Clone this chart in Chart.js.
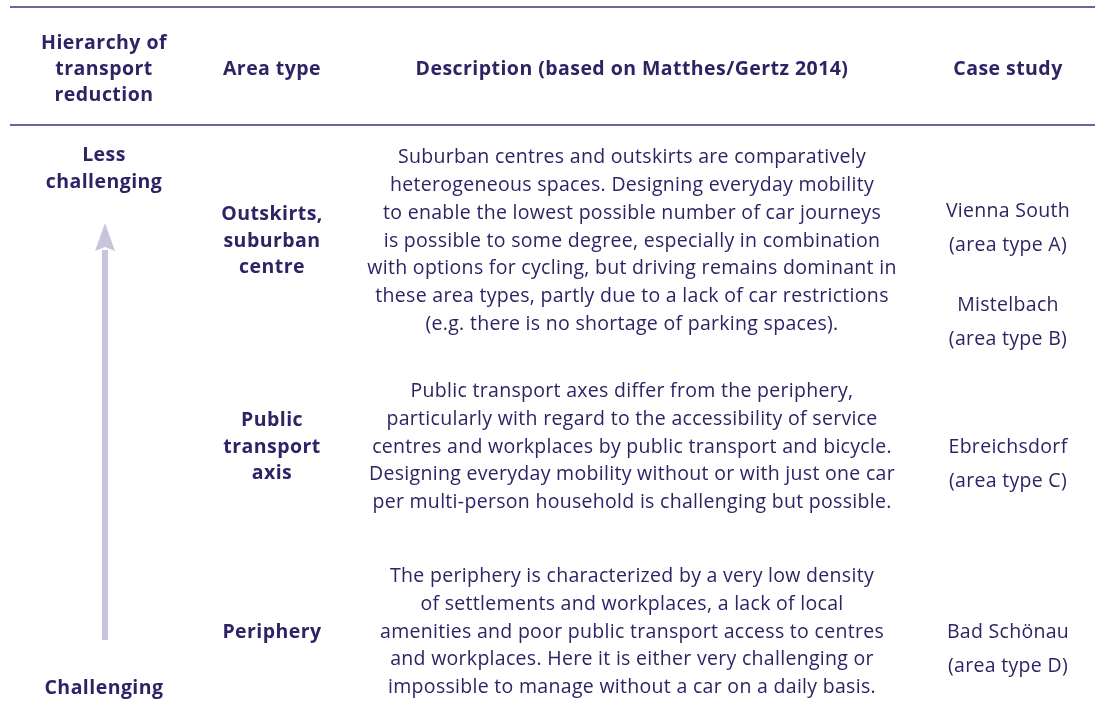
<!DOCTYPE html>
<html>
<head>
<meta charset="utf-8">
<script src="https://cdn.jsdelivr.net/npm/chart.js@4"></script>
<style>
  body { margin: 0; background: #fff; }
  #table-chart { display: block; }
</style>
</head>
<body>
<canvas id="table-chart" width="1095" height="710"></canvas>
<script>
const columnHeaders = [
    ['Hierarchy of', 'transport', 'reduction'],
    ['Area type'],
    ['Description (based on Matthes/Gertz 2014)'],
    ['Case study']
];
const areaTypes = [
    ['Outskirts,', 'suburban', 'centre'],
    ['Public', 'transport', 'axis'],
    ['Periphery']
];
const descriptions = [
    ['Suburban centres and outskirts are comparatively',
     'heterogeneous spaces. Designing everyday mobility',
     'to enable the lowest possible number of car journeys',
     'is possible to some degree, especially in combination',
     'with options for cycling, but driving remains dominant in',
     'these area types, partly due to a lack of car restrictions',
     '(e.g. there is no shortage of parking spaces).'],
    ['Public transport axes differ from the periphery,',
     'particularly with regard to the accessibility of service',
     'centres and workplaces by public transport and bicycle.',
     'Designing everyday mobility without or with just one car',
     'per multi-person household is challenging but possible.'],
    ['The periphery is characterized by a very low density',
     'of settlements and workplaces, a lack of local',
     'amenities and poor public transport access to centres',
     'and workplaces. Here it is either very challenging or',
     'impossible to manage without a car on a daily basis.']
];
const caseStudies = [
    [['Vienna South', '(area type A)'], ['Mistelbach', '(area type B)']],
    [['Ebreichsdorf', '(area type C)']],
    [['Bad Schönau', '(area type D)']]
];
const hierarchyTop = ['Less', 'challenging'];
const hierarchyBottom = ['Challenging'];

// layout (pixels on the hidden linear scales)
const colX = [104, 272, 632, 1008];
const headerY = 69;
const rowY = [241, 447, 632];
const ruleY = [7, 125];
const textColor = '#2d2365';
const ruleColor = '#3b3272';
const arrowColor = '#c8c4de';
const fontFamily = "'Open Sans', sans-serif";

function lines(ctx, arr, x, y, step) {
    let start = y - (arr.length - 1) * step / 2;
    arr.forEach((t, i) => ctx.fillText(t, x, start + i * step));
}

const tablePlugin = {
    id: 'tableText',
    afterDatasetsDraw(chart) {
        const ctx = chart.ctx;
        const xs = chart.scales.x;
        const ys = chart.scales.y;
        const px = v => xs.getPixelForValue(v);
        const py = v => ys.getPixelForValue(v);
        ctx.save();

        // rules
        ctx.strokeStyle = ruleColor;
        ctx.lineWidth = 1.5;
        for (const r of ruleY) {
            ctx.beginPath();
            ctx.moveTo(px(10), py(r));
            ctx.lineTo(px(1095), py(r));
            ctx.stroke();
        }

        // arrow head on the top point of the shaft
        const meta = chart.getDatasetMeta(0);
        const tip = meta.data[1];
        ctx.fillStyle = arrowColor;
        ctx.beginPath();
        ctx.moveTo(tip.x, tip.y - 27);
        ctx.lineTo(tip.x + 10, tip.y + 1);
        ctx.lineTo(tip.x, tip.y - 3);
        ctx.lineTo(tip.x - 10, tip.y + 1);
        ctx.closePath();
        ctx.fill();

        ctx.fillStyle = textColor;
        ctx.textAlign = 'center';
        ctx.textBaseline = 'middle';

        // header
        ctx.font = 'bold 19.5px ' + fontFamily;
        ctx.letterSpacing = '0.45px';
        columnHeaders.forEach((h, i) => lines(ctx, h, px(colX[i]), py(headerY), 26));

        // hierarchy labels
        lines(ctx, hierarchyTop, px(colX[0]), py(169), 27);
        lines(ctx, hierarchyBottom, px(colX[0]), py(688), 27);

        // area types
        areaTypes.forEach((a, i) => lines(ctx, a, px(colX[1]), py(rowY[i]), 26.5));

        // descriptions
        ctx.font = '19.5px ' + fontFamily;
        ctx.letterSpacing = '0.3px';
        descriptions.forEach((d, i) => lines(ctx, d, px(colX[2]), py(rowY[i]), 27.8));

        // case studies
        caseStudies.forEach((cs, i) => {
            const step = 34;
            const gap = 60;
            let total = cs.length * step + (cs.length - 1) * (gap - step) - step;
            let y = rowY[i] - total / 2;
            cs.forEach(c => {
                ctx.fillText(c[0], px(colX[3]), py(y));
                ctx.fillText(c[1], px(colX[3]), py(y + step));
                y += step + gap;
            });
        });

        ctx.restore();
    }
};

new Chart(document.getElementById('table-chart'), {
    type: 'scatter',
    data: {
        datasets: [{
            label: 'Hierarchy of transport reduction',
            data: [{x: colX[0] + 1, y: 640}, {x: colX[0] + 1, y: 250}],
            showLine: true,
            borderColor: arrowColor,
            borderWidth: 6,
            borderCapStyle: 'butt',
            pointRadius: 0
        }]
    },
    options: {
        responsive: false,
        devicePixelRatio: 1,
        animation: false,
        layout: { padding: 0 },
        plugins: { legend: { display: false }, tooltip: { enabled: false } },
        scales: {
            x: { type: 'linear', min: 0, max: 1095, display: false },
            y: { type: 'linear', min: 0, max: 710, reverse: true, display: false }
        }
    },
    plugins: [tablePlugin]
});
</script>
</body>
</html>
